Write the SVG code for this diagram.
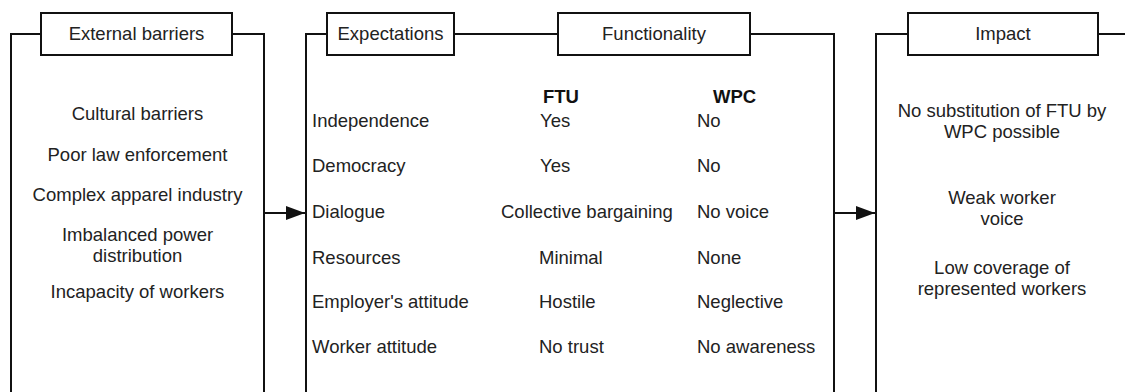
<svg xmlns="http://www.w3.org/2000/svg" width="1125" height="392" viewBox="0 0 1125 392">
  <style>
    .frame { fill: none; stroke: #111; stroke-width: 2; }
    .hdr { fill: #fff; stroke: #111; stroke-width: 2; }
    text { font-family: "Liberation Sans", Arial, sans-serif; font-size: 18.5px; fill: #222; }
    .c { text-anchor: middle; }
    .b { font-weight: bold; fill: #111; }
    .conn { stroke: #111; stroke-width: 2; fill: none; }
  </style>
  <defs>
    <marker id="head" viewBox="0 0 19 14" refX="19" refY="7" markerWidth="19" markerHeight="14" orient="auto" markerUnits="userSpaceOnUse">
      <path d="M0,0 L19,7 L0,14 Z" fill="#111"/>
    </marker>
  </defs>
  <rect width="1125" height="392" fill="#fff"/>

  <!-- External barriers panel -->
  <g id="external-barriers">
    <path class="frame" d="M11,392 V34 H41 M232,34 H264 V392"/>
    <rect class="hdr" x="41" y="13" width="191" height="42"/>
    <text class="c" x="136.5" y="40">External barriers</text>
    <text class="c" x="137.5" y="120">Cultural barriers</text>
    <text class="c" x="137.5" y="161">Poor law enforcement</text>
    <text class="c" x="137.5" y="201">Complex apparel industry</text>
    <text class="c" x="137.5" y="241">Imbalanced power</text>
    <text class="c" x="137.5" y="262">distribution</text>
    <text class="c" x="137.5" y="298">Incapacity of workers</text>
  </g>

  <!-- Expectations / Functionality panel -->
  <g id="expectations-functionality">
    <path class="frame" d="M306,392 V34 H327 M454,34 H558 M750,34 H834 V392"/>
    <rect class="hdr" x="327" y="13" width="127" height="42"/>
    <text class="c" x="390.5" y="40">Expectations</text>
    <rect class="hdr" x="558" y="13" width="192" height="42"/>
    <text class="c" x="654" y="40">Functionality</text>

    <text class="b" x="543" y="103">FTU</text>
    <text class="b" x="713" y="103">WPC</text>

    <text x="312" y="127">Independence</text>
    <text x="540" y="127">Yes</text>
    <text x="697" y="127">No</text>

    <text x="312" y="172">Democracy</text>
    <text x="540" y="172">Yes</text>
    <text x="697" y="172">No</text>

    <text x="312" y="218">Dialogue</text>
    <text x="501" y="218">Collective bargaining</text>
    <text x="697" y="218">No voice</text>

    <text x="312" y="264">Resources</text>
    <text x="539" y="264">Minimal</text>
    <text x="697" y="264">None</text>

    <text x="312" y="308">Employer's attitude</text>
    <text x="539" y="308">Hostile</text>
    <text x="697" y="308">Neglective</text>

    <text x="312" y="353">Worker attitude</text>
    <text x="539" y="353">No trust</text>
    <text x="697" y="353">No awareness</text>
  </g>

  <!-- Impact panel -->
  <g id="impact">
    <path class="frame" d="M876,392 V34 H908 M1098,34 H1126"/>
    <rect class="hdr" x="908" y="13" width="190" height="42"/>
    <text class="c" x="1003" y="40">Impact</text>
    <text class="c" x="1002" y="117">No substitution of FTU by</text>
    <text class="c" x="1002" y="138">WPC possible</text>
    <text class="c" x="1002" y="204">Weak worker</text>
    <text class="c" x="1002" y="225">voice</text>
    <text class="c" x="1002" y="274">Low coverage of</text>
    <text class="c" x="1002" y="295">represented workers</text>
  </g>

  <!-- Connectors between panels -->
  <g id="connectors">
    <line class="conn" x1="264" y1="213" x2="305" y2="213" marker-end="url(#head)"/>
    <line class="conn" x1="834" y1="213" x2="875" y2="213" marker-end="url(#head)"/>
  </g>
</svg>
